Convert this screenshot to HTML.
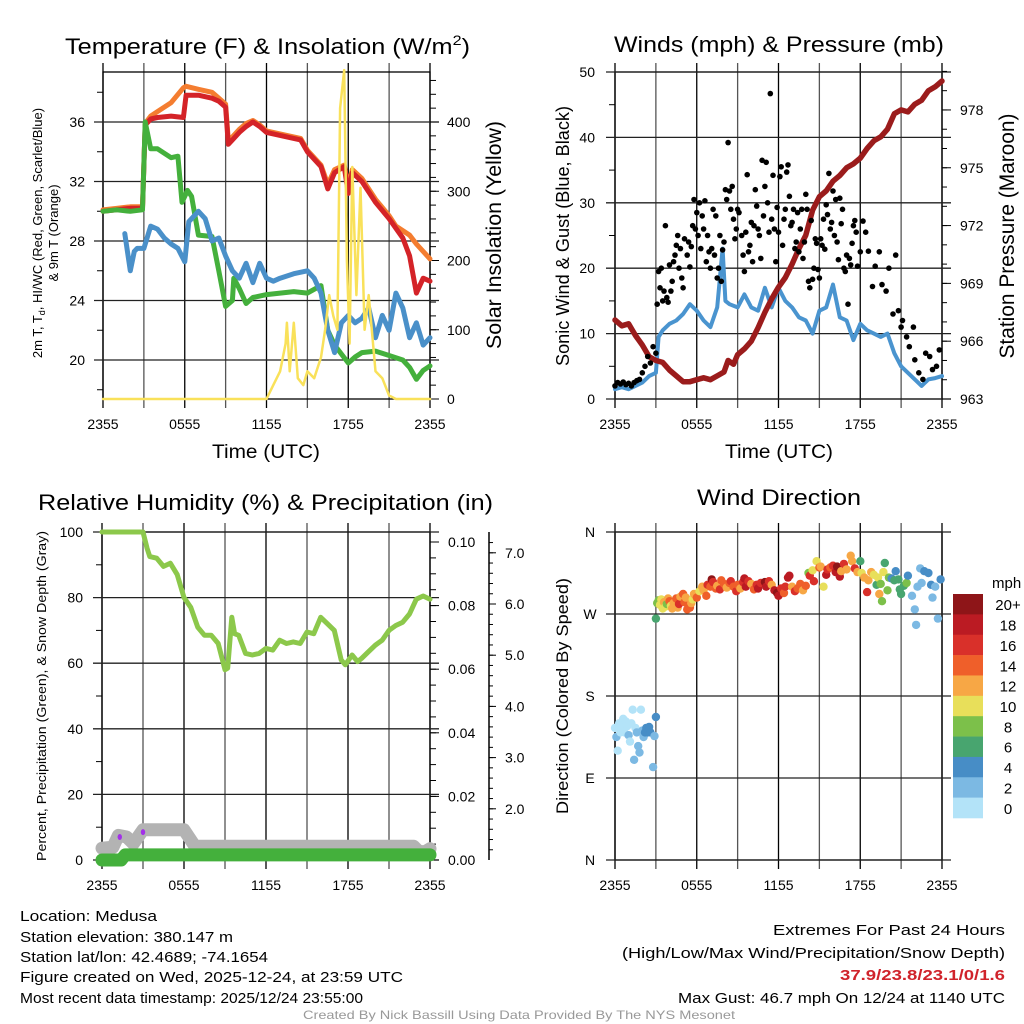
<!DOCTYPE html>
<html><head><meta charset="utf-8"><style>
html,body{margin:0;padding:0;background:#fff;}
svg{display:block;font-family:"Liberation Sans",sans-serif;}
.nar{font-family:"Liberation Sans Narrow","Liberation Sans",sans-serif;}
</style></head><body>
<svg id="chart" width="1024" height="1024" viewBox="0 0 1024 1024" xmlns="http://www.w3.org/2000/svg">
<g class="nar" font-size="15" fill="#000">
<text x="20" y="921" textLength="137" lengthAdjust="spacingAndGlyphs">Location: Medusa</text>
<text x="20" y="942" textLength="213" lengthAdjust="spacingAndGlyphs">Station elevation: 380.147 m</text>
<text x="20" y="962" textLength="248" lengthAdjust="spacingAndGlyphs">Station lat/lon: 42.4689; -74.1654</text>
<text x="20" y="982" textLength="383" lengthAdjust="spacingAndGlyphs">Figure created on Wed, 2025-12-24, at 23:59 UTC</text>
<text x="20" y="1003" textLength="343" lengthAdjust="spacingAndGlyphs">Most recent data timestamp: 2025/12/24 23:55:00</text>
<text x="1005" y="935" text-anchor="end" textLength="232" lengthAdjust="spacingAndGlyphs">Extremes For Past 24 Hours</text>
<text x="1005" y="958" text-anchor="end" textLength="383" lengthAdjust="spacingAndGlyphs">(High/Low/Max Wind/Precipitation/Snow Depth)</text>
<text x="1005" y="980" text-anchor="end" fill="#d0232b" font-weight="bold" textLength="165" lengthAdjust="spacingAndGlyphs">37.9/23.8/23.1/0/1.6</text>
<text x="1005" y="1003" text-anchor="end" textLength="327" lengthAdjust="spacingAndGlyphs">Max Gust: 46.7 mph On 12/24 at 1140 UTC</text>
<text x="303" y="1019" fill="#999" font-size="12" textLength="432" lengthAdjust="spacingAndGlyphs">Created By Nick Bassill Using Data Provided By The NYS Mesonet</text>
</g>
</svg>
<script>
// ---------- Panel 1: temperature ----------
const redT=[0,1,2,2.9,3.1,3.5,4,5,5.9,6.1,7,8,8.5,9,9.2,9.5,10,10.5,11,11.5,12,13,13.5,14.5,15,16,16.5,17,17.7,18,18.3,19,20,21,22,22.5,23,23.5,24];
const redV=[30.0,30.1,30.2,30.2,35.8,36.2,36.3,36.4,36.3,37.8,37.8,37.6,37.4,37.0,34.5,34.8,35.3,35.7,36.0,35.7,35.3,35.1,35.0,34.8,34.0,33.0,31.5,32.6,33.0,31.2,32.6,32.0,30.6,29.5,28.2,27.0,24.5,25.5,25.3];
const orgT=[0,1,2,2.9,3.1,3.5,4,5,5.9,6.1,7,8,8.5,9,9.2,9.5,10,10.5,11,11.5,12,13,13.5,14.5,15,16,16.5,17,17.7,18,18.3,19,20,21,21.5,22.5,23,24];
const orgV=[30.1,30.2,30.3,30.3,35.9,36.4,36.7,37.3,38.3,38.4,38.2,38.0,37.6,37.2,34.8,35.0,35.5,35.9,36.1,35.8,35.4,35.2,35.1,34.9,34.1,33.1,31.8,32.8,33.1,31.6,32.8,32.2,30.8,29.7,29.0,28.4,27.8,26.8];
const grnT=[0,1,2,2.9,3.1,3.5,4,5,5.5,5.8,6.2,6.5,7,8,8.5,9,9.5,9.6,10,10.5,11,12,14,15,16,16.5,17,18,18.5,19,20,21,22,22.5,23,23.5,24];
const grnV=[30.0,30.1,30.0,30.1,36.0,34.2,34.2,33.6,33.7,30.6,31.4,31.0,28.4,28.3,26.0,23.6,24.0,25.5,24.8,23.8,24.2,24.4,24.6,24.5,25.0,22.0,21.0,19.8,20.2,20.5,20.6,20.3,20.0,19.5,18.7,19.3,19.6];
const bluT=[1.6,2,2.3,2.5,3,3.5,4,4.5,5,5.5,6,6.3,7,7.5,8,8.5,9,9.5,10,10.5,11,11.5,12,12.5,13,14,15,15.5,16,16.5,17,17.5,18,18.5,19,19.5,20,20.5,21,21.5,22,22.5,23,23.5,24];
const bluV=[28.5,26.0,27.3,27.5,27.5,29.0,28.8,28.2,27.8,27.5,26.6,29.3,30.0,29.5,28.0,28.2,27.0,26.0,25.5,26.5,25.2,26.5,25.5,25.3,25.5,25.8,26.0,25.5,24.5,22.0,20.5,22.5,23.0,22.5,22.8,23.5,21.5,23.0,22.0,24.5,23.5,21.5,22.5,21.0,21.5];
const solT=[0,12,12.5,13,13.4,13.5,13.7,14,14.3,14.7,15,15.5,16,16.3,16.6,16.9,17.2,17.4,17.7,17.9,18.1,18.3,18.6,18.9,19.2,19.5,20,20.5,21,21.5,24];
const solV=[0,0,20,40,80,110,40,110,30,20,40,30,60,100,150,120,100,420,475,200,80,335,150,305,100,150,40,30,5,0,0];
const tempTicks=[20,24,28,32,36];
const solTicks=[0,100,200,300,400];
const timeLabels=["2355","0555","1155","1755","2355"];
// ---------- Panel 2: winds ----------
const windT=[0,0.5,1,1.5,2,2.5,3,3.2,3.5,4,4.5,5,5.5,6,6.5,7,7.5,7.9,8.1,8.4,9,9.5,10,10.5,11,11.5,12,12.5,13,13.5,14,14.5,15,15.5,16,16.5,17,17.5,18,18.5,19,19.5,20,20.5,21,21.5,22,22.5,23,23.5,24];
const windV=[1.5,1.8,1.5,2.0,2.5,3.5,4.0,9.5,10.5,11.5,12.0,13.0,14.5,13.5,12.0,11.0,14.0,23.0,15.0,14.5,14.0,16.0,14.0,13.5,17.0,14.0,17.0,15.0,14.0,12.5,12.0,10.0,13.5,14.0,17.5,12.5,12.0,9.0,11.5,10.5,10.0,9.5,10.0,7.0,5.0,4.0,3.0,2.0,3.0,3.2,3.5];
const presT=[0,0.5,1,1.5,2,2.5,3,3.5,4,4.5,5,5.5,6,6.5,7,7.5,8,8.3,8.7,9,9.5,10,10.5,11,11.5,12,12.5,13,13.5,14,14.5,15,15.5,16,16.5,17,17.5,18,18.5,19,19.5,20,20.5,21,21.5,22,22.5,23,23.5,24];
const presV=[967.1,966.8,966.9,966.3,965.8,965.2,965.0,964.9,964.5,964.2,963.9,963.9,964.0,964.1,964.0,964.2,964.4,965.0,964.8,965.3,965.6,966.0,966.7,967.5,968.2,968.8,969.3,970.0,970.8,971.5,972.8,973.5,973.8,974.3,974.6,975.0,975.2,975.5,976.0,976.4,976.6,977.0,977.8,978.0,977.9,978.3,978.5,979.0,979.2,979.5];
const gustT=[0,0.2,0.4,0.6,0.8,1.0,1.2,1.4,1.6,1.8,2.0,2.2,2.4,2.6,2.8,3.0,3.1,3.2,3.3,3.4,3.5,3.6,3.7,3.8,3.9,4.0,4.1,4.2,4.3,4.4,4.5,4.6,4.7,4.8,4.9,5.0,5.1,5.3,5.4,5.5,5.6,5.7,5.8,5.9,6.0,6.1,6.2,6.3,6.4,6.5,6.6,6.7,6.8,6.9,7.0,7.1,7.2,7.3,7.4,7.5,7.6,7.7,7.8,7.9,8.0,8.1,8.2,8.3,8.4,8.5,8.6,8.7,8.8,8.9,9.0,9.1,9.3,9.4,9.5,9.6,9.7,9.8,9.9,10.0,10.1,10.2,10.3,10.4,10.5,10.6,10.7,10.8,10.9,11.0,11.1,11.2,11.3,11.4,11.5,11.6,11.7,11.8,11.9,12.0,12.1,12.2,12.3,12.4,12.5,12.6,12.7,12.8,12.9,13.0,13.1,13.2,13.3,13.4,13.5,13.6,13.7,13.8,13.9,14.0,14.1,14.2,14.3,14.4,14.5,14.6,14.7,14.8,14.9,15.0,15.1,15.2,15.3,15.4,15.5,15.6,15.7,15.8,15.9,16.0,16.1,16.2,16.3,16.4,16.5,16.6,16.7,16.8,16.9,17.0,17.1,17.2,17.3,17.4,17.5,17.6,17.7,17.8,18.0,18.2,18.4,18.6,18.9,19.1,19.4,19.6,19.9,20.1,20.4,20.6,20.8,21.0,21.1,21.4,21.6,21.9,22.0,22.3,22.6,22.8,23.1,23.3,23.6,23.8,24.0];
const gustV=[2,2.5,2.3,2.6,2.2,2.4,2.0,2.5,2.8,3.0,4.0,5.0,6.5,5.5,8,7,14.5,19.5,17,20,15,16.5,26.5,15.5,14.8,20.5,16.5,18,21,22,23.5,25,20,23,18.5,17,24.5,22,24,20.2,23.3,26.5,30.5,26,28.5,25,30,23,28,26,30.3,21,25,22.5,20,23,29,22,28,18.5,20,25,18,22.8,24,32,30.5,39.2,31.8,29,32.5,27.5,24.5,26,29,28.5,25,22,19.5,25.5,34.3,22.5,23.5,27,21,26.5,32,29.5,26,25,21.5,36.5,28,32.5,36.2,30,25.5,46.7,27.5,34.2,26,21,29.3,25.5,34,35.5,23.5,27.5,29,34.7,35.8,31,26.5,27,29,23,24,28.5,22.5,26,29,21.5,24,31.3,29,18,17,27.3,18.3,20,24.5,23.8,19.8,18.5,24.5,23.5,27.5,22.9,29.7,28.2,34.5,26,27,31.8,25,30.5,24,21.3,30.7,26.8,29,20,19.5,22,14.5,21.5,20.5,23.8,26.5,27.3,25.5,20.3,22.5,27.2,25.5,22.6,17.2,20.3,22.5,17.5,16.5,20,13,22,13.5,11,12,9.5,8,11,6,4,3,7,6.5,4.5,5,7.5];
const windTicks=[0,10,20,30,40,50];
const presTicks=[963,966,969,972,975,978];
// ---------- Panel 3: humidity ----------
const rhT=[0,3,3.3,3.5,4,4.5,5,5.5,6,6.5,7,7.5,8,8.5,9,9.2,9.5,9.7,10,10.5,11,11.5,12,12.5,13,13.5,14,14.5,15,15.5,16,16.5,17,17.5,17.8,18.3,18.7,19,19.5,20,20.5,21,21.5,22,22.5,23,23.5,24];
const rhV=[100,100,95,92.5,92,89.5,90.5,87,80,77,71,68.5,68.5,66,58,58.5,74,69,68.5,63,62.5,63,64.5,64,67,66,66.5,66,69.5,69,74,72,70,61,59.5,62.5,60.5,61.5,63.5,65.5,67,70,71.5,72.5,75,79.5,80.5,79.5];
const snowT=[0,0.8,1.2,1.8,2.3,3.0,6.0,6.8,22.8,23.2,23.7,24];
const snowV=[1.23,1.25,1.48,1.45,1.32,1.59,1.59,1.27,1.27,1.16,1.17,1.22];
const precT=[0,1.4,1.7,24];
const precV=[0,0,0.0016,0.0016];
const purpleT=[1.3,3.0];
const purpleV=[7,8.5];
const rhTicks=[0,20,40,60,80,100];
const precTicks=[0.00,0.02,0.04,0.06,0.08,0.10];
const snowTicks=[2.0,3.0,4.0,5.0,6.0,7.0];
// ---------- Panel 4: wind direction ----------
const dirT=[0,0.1,0.2,0.3,0.4,0.5,0.6,0.7,0.8,0.9,1.0,1.1,1.2,1.3,1.4,1.5,1.6,1.7,1.8,1.9,2.0,2.1,2.2,2.3,2.4,2.5,2.6,2.8,2.9,3.0,3.0,3.1,3.2,3.3,3.4,3.5,3.6,3.7,3.8,3.9,4.0,4.1,4.2,4.3,4.5,4.6,4.7,4.8,5.0,5.1,5.2,5.3,5.5,5.6,5.7,5.8,6.0,6.2,6.4,6.5,6.7,6.8,7.0,7.1,7.2,7.4,7.5,7.7,7.8,8.0,8.2,8.4,8.5,8.7,8.9,9.0,9.2,9.4,9.5,9.6,9.8,10.0,10.2,10.4,10.5,10.7,11.0,11.1,11.3,11.5,11.7,11.9,12.0,12.2,12.4,12.5,12.7,12.8,13.0,13.2,13.4,13.6,13.8,14.0,14.2,14.3,14.5,14.6,14.8,15.0,15.1,15.3,15.5,15.6,15.8,16.0,16.2,16.3,16.5,16.6,16.8,17.0,17.3,17.4,17.6,17.8,18.0,18.1,18.3,18.5,18.6,18.8,19.0,19.2,19.3,19.4,19.5,19.6,19.7,19.8,20.0,20.1,20.3,20.5,20.6,20.8,20.9,21.0,21.2,21.4,21.5,21.8,22.0,22.1,22.2,22.4,22.5,22.7,23.0,23.2,23.3,23.5,23.7,23.9];
const dirV=[145,135,120,150,140,148,155,140,152,147,137,130,150,165,110,145,140,125,118,165,142,135,140,145,140,146,140,102,136,157,265,282,285,280,286,276,283,278,281,287,284,279,276,282,287,277,281,289,292,283,288,275,277,282,286,292,288,295,300,296,290,302,300,308,305,298,301,297,307,303,299,304,306,300,295,302,298,305,309,300,306,303,297,302,298,304,305,300,306,302,296,293,290,298,293,300,310,312,300,295,298,303,296,301,315,312,318,306,328,321,322,300,313,319,321,323,316,322,311,317,325,319,334,328,320,316,328,315,310,294,307,316,313,302,310,292,303,284,316,326,296,310,309,307,317,308,297,292,301,304,312,290,275,258,300,320,304,317,315,302,288,300,265,308];
const dirS=[1,3,1,0.5,1,1,1,1,1,1,2.5,1,1,1,2.5,1,3,3,2.5,0.5,3,2.5,4.5,4.5,4.5,4,4.5,2.5,3,4.5,6,9,8,10,10,10,12,10,8,12,14,10,12,13,14,12,16,13,14,15,12,15,14,12,11,13,15,10,13,12,15,17,14,20,16,15,12,16,15,14,12,15,16,14,17,15,13,16,19,18,17,12,15,16,18,17,20,18,16,12,18,20,19,16,15,17,18,19,12,16,15,14,12,14,8,16,11,16,10,14,13,10,18,16,14,16,18,20,18,12,16,12,12,12,17,12,6,10,12,16,12,12,10,6,10,12,8,8,10,6,8,8,5,6,4,6,6,6,6,8,4,3,2,3,3,3,2,4,4,4,3,3,2.5,4];
const dirLabels=["N","E","S","W","N"];
const barLabels=["20+","18","16","14","12","10","8","6","4","2","0"];
const barColors=["#8e1518","#bb1b23","#d9302a","#ef5f2a","#f7a745","#e8df5a","#7cc04a","#48a56f","#478dc6","#7cb9e3","#b3e3f8"];

const NS="http://www.w3.org/2000/svg";
const svg=document.getElementById('chart');
function mk(tag,attrs,parent){const e=document.createElementNS(NS,tag);for(const k in attrs)e.setAttribute(k,attrs[k]);(parent||svg).appendChild(e);return e;}
function grp(name){const g=mk('g',{});return g;}
function pathD(ts,vs,xf,yf){let d='';const n=Math.min(ts.length,vs.length);for(let i=0;i<n;i++){d+=(i?'L':'M')+xf(ts[i]).toFixed(1)+','+yf(vs[i]).toFixed(1);}return d;}
function line(g,name,ts,vs,xf,yf,color,w){const p=mk('path',{d:pathD(ts,vs,xf,yf),fill:'none',stroke:color,'stroke-width':w,'stroke-linejoin':'round','stroke-linecap':'round'},g);return p;}
function txt(g,name,x,y,s,opt){const t=mk('text',Object.assign({x:x,y:y},opt||{}),g);t.textContent=s;return t;}
function frame(g,L,R,T,B,xf){
  for(let h=0;h<=24;h+=3){const x=xf(h);const l=mk('line',{x1:x,x2:x,y1:T-9,y2:B+9,stroke:(h%6==0)?'#000':'#555','stroke-width':1.3},g);}
  for(let i=0;i<timeLabels.length;i++){txt(g,'x-tick-label',xf(i*6),B+30,timeLabels[i],{'font-size':14,'text-anchor':'middle'});}
  const r=mk('rect',{x:L,y:T,width:R-L,height:B-T,fill:'none',stroke:'#000','stroke-width':1.3},g);
}
function hgrid(g,L,R,y){const l=mk('line',{x1:L-9,x2:R+9,y1:y,y2:y,stroke:'#222','stroke-width':1.3},g);}
function tick(g,x1,x2,y){const l=mk('line',{x1:x1,x2:x2,y1:y,y2:y,stroke:'#000','stroke-width':1},g);}
function rotText(g,name,cx,cy,s,size,len){const t=txt(g,name,0,0,s,{'font-size':size,'text-anchor':'middle',transform:`translate(${cx},${cy}) rotate(-90)`,textLength:len,lengthAdjust:'spacingAndGlyphs'});return t;}

// ===== Panel 1 =====
{const g=grp('temperature-panel');
const x1=t=>103+t*327/24, yT=v=>360-(v-20)*59.5/4, yS=v=>399-v*0.6925;
txt(g,'temperature-title',65,54,'',{'font-size':22,textLength:405,lengthAdjust:'spacingAndGlyphs'}).innerHTML='Temperature (F) &amp; Insolation (W/m<tspan dy="-9" font-size="14">2</tspan><tspan dy="9">)</tspan>';
frame(g,103,430,72,399,x1);
tempTicks.forEach(v=>{hgrid(g,103,430,yT(v));txt(g,'left-tick-label',85,yT(v)+5,String(v),{'font-size':14,'text-anchor':'end'});});
for(let v=18;v<=38;v+=2){if(v%4)tick(g,97,103,yT(v));}
solTicks.forEach(v=>{tick(g,430,439,yS(v));txt(g,'right-tick-label',447,yS(v)+5,String(v),{'font-size':14});});
for(let v=0;v<=460;v+=20)tick(g,430,436,yS(v));
line(g,'series-9m-temp',orgT,orgV,x1,yT,'#f47d30',5);
line(g,'series-2m-temp',redT,redV,x1,yT,'#d42328',5);
line(g,'series-dewpoint',grnT,grnV,x1,yT,'#44b03c',5);
line(g,'series-windchill',bluT,bluV,x1,yT,'#4a90c9',5);
line(g,'series-solar',solT,solV,x1,yS,'#f9e15a',2.5);
txt(g,'x-axis-title',266,458,'Time (UTC)',{'font-size':19,'text-anchor':'middle',textLength:108,lengthAdjust:'spacingAndGlyphs'});
rotText(g,'solar-axis-title',501,235,'Solar Insolation (Yellow)',21,228);
const a=txt(g,'temp-axis-title',0,0,'',{'font-size':13,'text-anchor':'middle',transform:'translate(42,233) rotate(-90)'});
a.innerHTML='<tspan x="0" dy="0">2m T, T<tspan font-size="9" dy="3">d</tspan><tspan dy="-3">, HI/WC (Red, Green, Scarlet/Blue)</tspan></tspan><tspan x="0" dy="16">&amp; 9m T (Orange)</tspan>';
}
// ===== Panel 2 =====
{const g=grp('winds-panel');
const x2=t=>615+t*327/24, yW=v=>399-v*6.54, yP=v=>399-(v-963)*19.27;
txt(g,'winds-title',614,52,'Winds (mph) & Pressure (mb)',{'font-size':22,textLength:330,lengthAdjust:'spacingAndGlyphs'});
frame(g,615,942,72,399,x2);
windTicks.forEach(v=>{hgrid(g,615,942,yW(v));txt(g,'left-tick-label',595,yW(v)+5,String(v),{'font-size':14,'text-anchor':'end'});});
for(let v=5;v<50;v+=10)tick(g,609,615,yW(v));
presTicks.forEach(v=>{tick(g,942,951,yP(v));txt(g,'right-tick-label',960,yP(v)+5,String(v),{'font-size':14});});
for(let v=963;v<=980;v+=1)tick(g,942,947,yP(v));
line(g,'series-sonic-wind',windT,windV,x2,yW,'#4a94cf',4);
line(g,'series-pressure',presT,presV,x2,yP,'#9b1c1c',5.5);
const dg=grp('series-gusts');g.appendChild(dg);
const ng=Math.min(gustT.length,gustV.length);
for(let i=0;i<ng;i++){const c=mk('circle',{cx:x2(gustT[i]).toFixed(1),cy:yW(gustV[i]).toFixed(1),r:2.8,fill:'#000'},dg);}
txt(g,'x-axis-title',779,458,'Time (UTC)',{'font-size':19,'text-anchor':'middle',textLength:108,lengthAdjust:'spacingAndGlyphs'});
rotText(g,'wind-axis-title',569,236,'Sonic Wind & Gust (Blue, Black)',18,260);
rotText(g,'pressure-axis-title',1014,236,'Station Pressure (Maroon)',21,245);
}
// ===== Panel 3 =====
{const g=grp('humidity-panel');
const x3=t=>102+t*328/24, yRH=v=>860-v*3.28, yPr=v=>860-v*3180, ySn=v=>860-(v-1)*51.2;
txt(g,'humidity-title',38,510,'Relative Humidity (%) & Precipitation (in)',{'font-size':22,textLength:455,lengthAdjust:'spacingAndGlyphs'});
frame(g,102,430,532,860,x3);
rhTicks.forEach(v=>{hgrid(g,102,430,yRH(v));txt(g,'left-tick-label',83,yRH(v)+5,String(v),{'font-size':14,'text-anchor':'end'});});
for(let v=10;v<100;v+=20)tick(g,96,102,yRH(v));
precTicks.forEach(v=>{tick(g,430,439,yPr(v));txt(g,'precip-tick-label',448,yPr(v)+5,v.toFixed(2),{'font-size':14});});
for(let v=0;v<=0.1;v+=0.005)tick(g,430,436,yPr(v));
const ax=mk('line',{x1:489,x2:489,y1:532,y2:860,stroke:'#000','stroke-width':1.5},g);
snowTicks.forEach(v=>{tick(g,489,496,ySn(v));txt(g,'snow-tick-label',505,ySn(v)+5,v.toFixed(1),{'font-size':14});});
for(let v=1.2;v<=7.4;v+=0.2)tick(g,489,493,ySn(v));
line(g,'series-snow-depth',snowT,snowV,x3,ySn,'#b3b3b3',13);
line(g,'series-rh',rhT,rhV,x3,yRH,'#8cc84b',5);
line(g,'series-precip',precT,precV,x3,yPr,'#44b03c',13);
for(let i=0;i<purpleT.length;i++){const c=mk('ellipse',{cx:x3(purpleT[i]),cy:yRH(purpleV[i]),rx:2.2,ry:3,fill:'#a230e8'},g);}
rotText(g,'humidity-axis-title',46,696,'Percent, Precipitation (Green), & Snow Depth (Gray)',13,330);
}
// ===== Panel 4 =====
{const g=grp('wind-direction-panel');
const x4=t=>615+t*327/24, yD=d=>860-d*328/360;
txt(g,'wind-direction-title',697,505,'Wind Direction',{'font-size':22,textLength:164,lengthAdjust:'spacingAndGlyphs'});
frame(g,615,942,532,860,x4);
dirLabels.forEach((s,i)=>{const y=yD(i*90);hgrid(g,615,942,y);txt(g,'direction-tick-label',590,y+5,s,{'font-size':14,'text-anchor':'middle'});});
const pg=grp('direction-points');g.appendChild(pg);
const nd=Math.min(dirT.length,dirV.length,dirS.length);
for(let i=0;i<nd;i++){if(!isFinite(dirV[i])||!isFinite(dirS[i]))continue;const b=Math.min(10,Math.floor(dirS[i]/2));const c=mk('circle',{cx:x4(dirT[i]).toFixed(1),cy:yD(dirV[i]).toFixed(1),r:4.2,fill:barColors[10-b]},pg);}
rotText(g,'direction-axis-title',568,696,'Direction (Colored By Speed)',17,236);
const cb=grp('speed-colorbar');g.appendChild(cb);
txt(cb,'colorbar-unit',992,588,'mph',{'font-size':15});
const h=224/barColors.length;
barColors.forEach((c,i)=>{const r=mk('rect',{x:953,y:594+i*h,width:30,height:h+0.3,fill:c},cb);
txt(cb,'colorbar-label',1008,594+i*h+h/2+6,barLabels[i],{'font-size':15,'text-anchor':'middle'});});
}
</script>
</body></html>
